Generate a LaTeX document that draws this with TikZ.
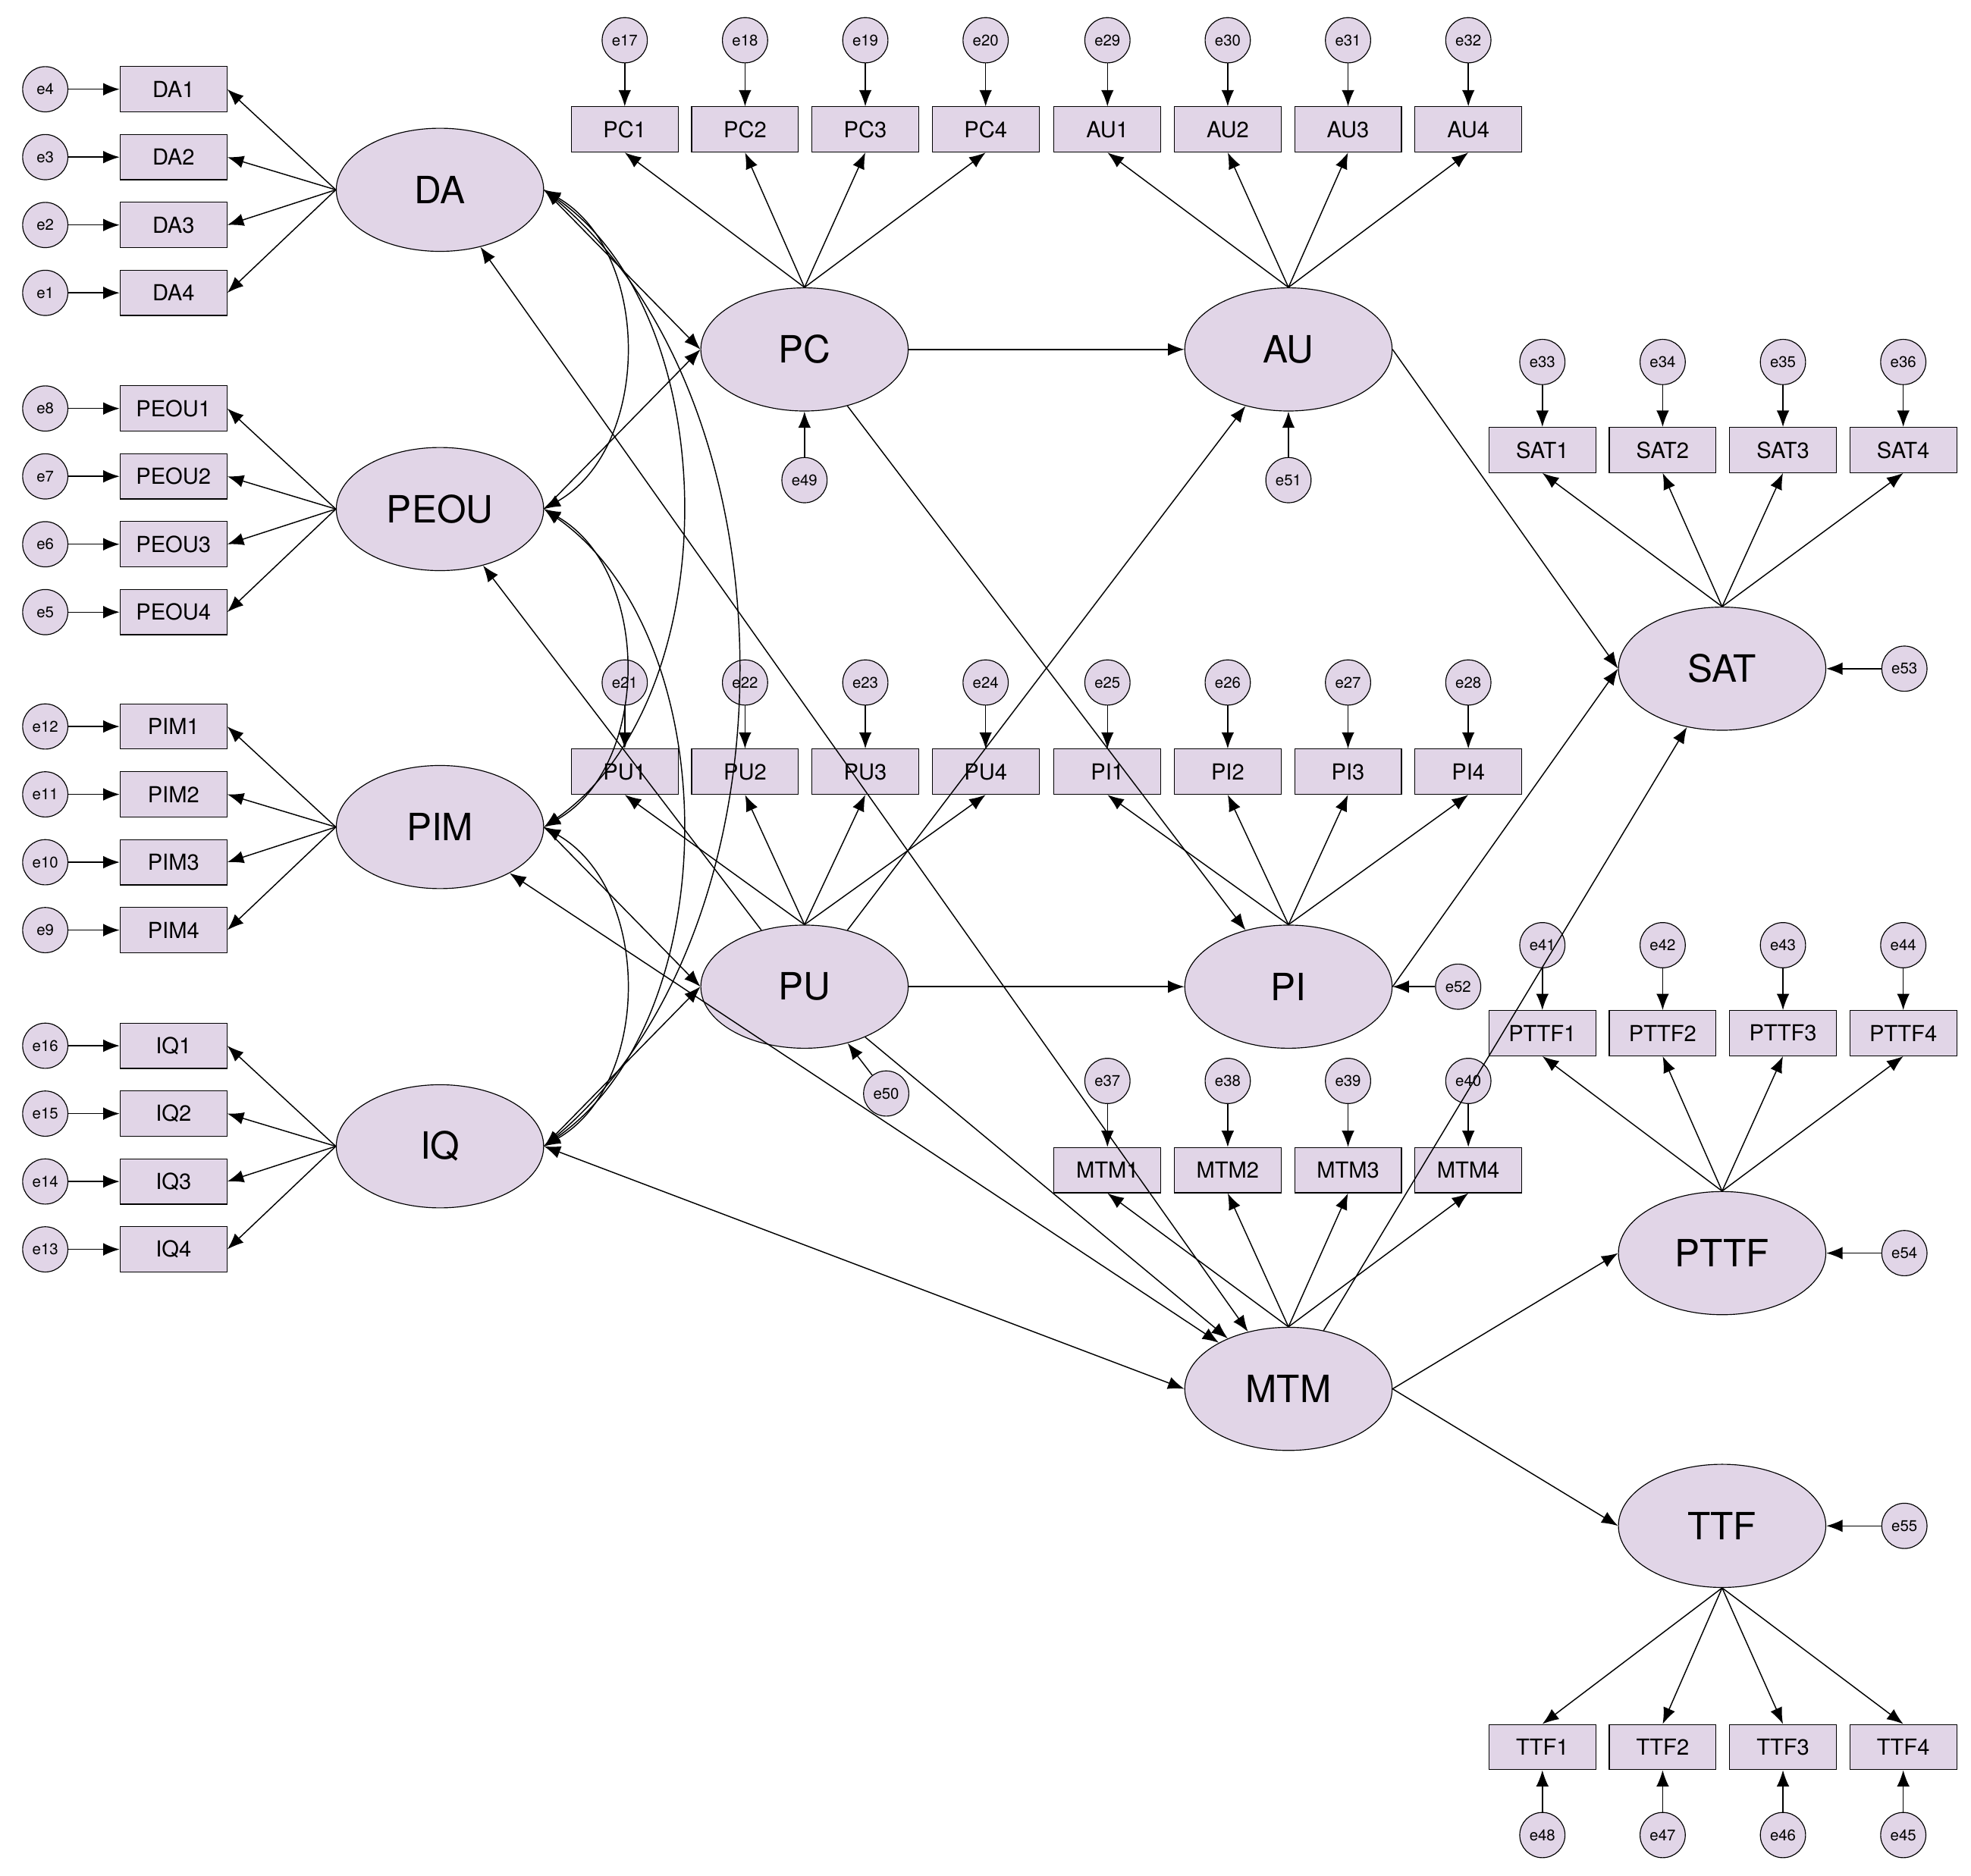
\documentclass[tikz,border=0pt]{standalone}
\usepackage{fontspec}
\setmainfont{TeX Gyre Heros}
\usetikzlibrary{arrows.meta,shapes.geometric}
\definecolor{lav}{HTML}{E1D5E7}
\tikzset{
  lat/.style={ellipse,draw,fill=lav,minimum width=3.3cm,minimum height=1.96cm,font=\fontsize{17}{17}\selectfont},
  obs/.style={rectangle,draw,fill=lav,minimum width=1.7cm,minimum height=0.72cm,inner sep=1pt,font=\fontsize{10}{10}\selectfont},
  err/.style={circle,draw,fill=lav,minimum size=0.72cm,inner sep=0pt,font=\fontsize{7}{7}\selectfont},
  arr/.style={-{Latex[length=2.6mm,width=2mm]},line width=0.5pt},
  cov/.style={{Latex[length=2.6mm,width=2mm]}-{Latex[length=2.6mm,width=2mm]},line width=0.5pt}
}
\begin{document}
\begin{tikzpicture}[x=0.02cm,y=-0.02cm]
\useasboundingbox (0,0) rectangle (1568,1492);
% left exogenous constructs
\foreach \g/\y/\b in {DA/151/0,PEOU/405/4,PIM/658/8,IQ/912/12} {
  \node[lat] (\g) at (350,\y) {\g};
  \foreach \i in {1,...,4} {
    \pgfmathtruncatemacro{\e}{\b+5-\i}
    \node[obs] (\g\i) at (138,\y-80+54*\i-54) {\g\i};
    \node[err] (e\e) at (36,\y-80+54*\i-54) {e\e};
    \draw[arr] (e\e) -- (\g\i);
    \draw[arr] (\g.west) -- (\g\i.east);
  }
}
% top and middle constructs, indicators above
\foreach \g/\x/\y/\b in {PC/640/278/17,AU/1025/278/29,PU/640/785/21,PI/1025/785/25,MTM/1025/1105/37} {
  \node[lat] (\g) at (\x,\y) {\g};
}
\foreach \g/\x/\y/\b in {PC/497/103/17,AU/881/103/29,PU/497/614/21,PI/881/614/25,MTM/881/931/37} {
  \foreach \i in {1,...,4} {
    \pgfmathtruncatemacro{\e}{\b+\i-1}
    \node[obs] (\g\i) at (\x+95.7*\i-95.7,\y) {\g\i};
    \node[err] (e\e) at (\x+95.7*\i-95.7,\y-71) {e\e};
    \draw[arr] (e\e) -- (\g\i);
    \draw[arr] (\g.north) -- (\g\i.south);
  }
}
% right constructs
\node[lat] (SAT) at (1370,532) {SAT};
\node[lat] (PTTF) at (1370,997) {PTTF};
\node[lat] (TTF) at (1370,1214) {TTF};
\foreach \g/\y/\b in {SAT/358/33,PTTF/822/41} {
  \foreach \i in {1,...,4} {
    \pgfmathtruncatemacro{\e}{\b+\i-1}
    \node[obs] (\g\i) at (1227+95.7*\i-95.7,\y) {\g\i};
    \node[err] (e\e) at (1227+95.7*\i-95.7,\y-70) {e\e};
    \draw[arr] (e\e) -- (\g\i);
    \draw[arr] (\g.north) -- (\g\i.south);
  }
}
\foreach \i in {1,...,4} {
  \pgfmathtruncatemacro{\e}{49-\i}
  \node[obs] (TTF\i) at (1227+95.7*\i-95.7,1390) {TTF\i};
  \node[err] (e\e) at (1227+95.7*\i-95.7,1460) {e\e};
  \draw[arr] (e\e) -- (TTF\i);
  \draw[arr] (TTF.south) -- (TTF\i.north);
}
% disturbances
\node[err] (e49) at (640,382) {e49};
\node[err] (e51) at (1025,382) {e51};
\node[err] (e50) at (705,870) {e50};
\node[err] (e52) at (1160,785) {e52};
\node[err] (e53) at (1515,532) {e53};
\node[err] (e54) at (1515,997) {e54};
\node[err] (e55) at (1515,1214) {e55};
\draw[arr] (e49) -- (PC);
\draw[arr] (e51) -- (AU);
\draw[arr] (e50) -- (PU);
\draw[arr] (e52) -- (PI);
\draw[arr] (e53) -- (SAT);
\draw[arr] (e54) -- (PTTF);
\draw[arr] (e55) -- (TTF);
% structural paths
\draw[arr] (DA.east) -- (PC.west);
\draw[arr] (PEOU.east) -- (PC.west);
\draw[arr] (PIM.east) -- (PU.west);
\draw[arr] (IQ.east) -- (PU.west);
\draw[arr] (PC) -- (AU);
\draw[arr] (PU) -- (PI);
\draw[arr] (PC) -- (PI);
\draw[arr] (PU) -- (AU);
\draw[arr] (PU) -- (PEOU);
\draw[arr] (PU) -- (MTM);
\draw[arr] (AU.east) -- (SAT.west);
\draw[arr] (PI.east) -- (SAT.west);
\draw[arr] (MTM) -- (SAT);
\draw[arr] (MTM.east) -- (PTTF.west);
\draw[arr] (MTM.east) -- (TTF.west);
\draw[cov] (DA) -- (MTM);
\draw[cov] (PIM) -- (MTM);
\draw[cov] (IQ.east) -- (MTM.west);
% correlations among exogenous constructs
\draw[cov] (DA.east) to[out=-30,in=30] (PEOU.east);
\draw[cov] (DA.east) to[out=-35,in=35,looseness=0.9] (PIM.east);
\draw[cov] (DA.east) to[out=-40,in=40,looseness=0.9] (IQ.east);
\draw[cov] (PEOU.east) to[out=-30,in=30] (PIM.east);
\draw[cov] (PEOU.east) to[out=-35,in=35,looseness=0.9] (IQ.east);
\draw[cov] (PIM.east) to[out=-30,in=30] (IQ.east);
\end{tikzpicture}
\end{document}
